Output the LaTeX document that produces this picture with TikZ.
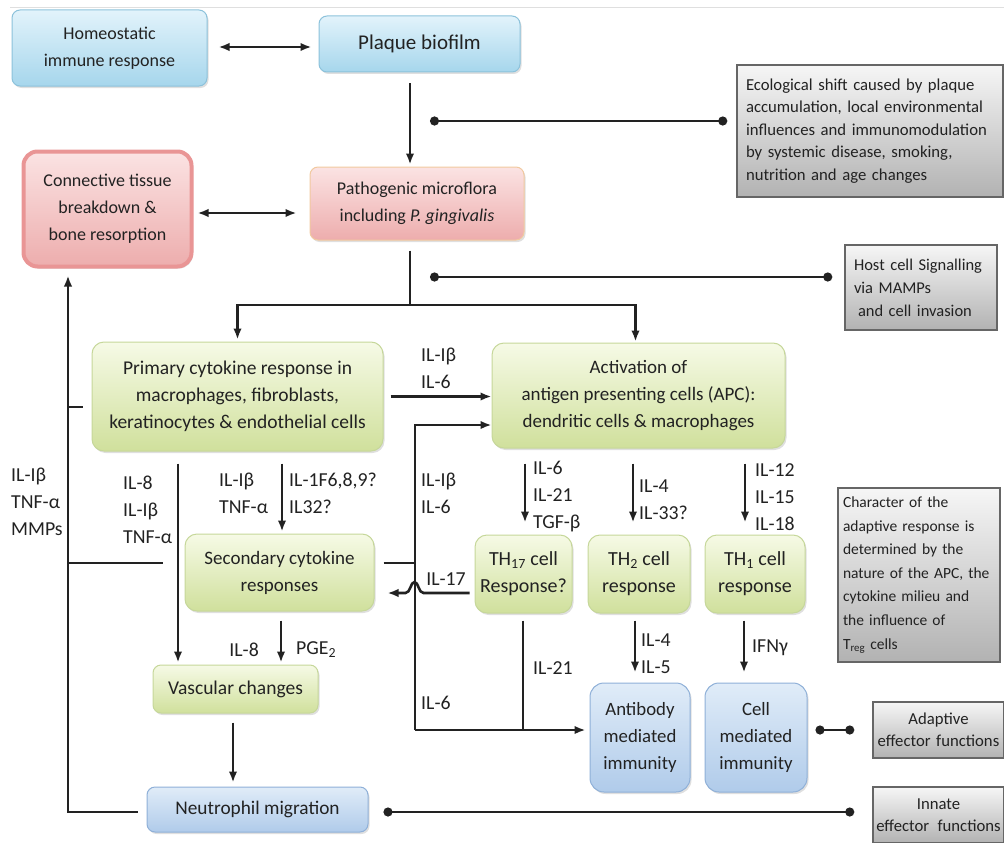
\documentclass[tikz,border=0pt]{standalone}
\usepackage{fontspec}
\setmainfont{Carlito}
\usepackage{xcolor}
\usepackage{tikz}
\usetikzlibrary{arrows.meta,positioning,shadows,calc}
\definecolor{inkgray}{HTML}{222222}
\definecolor{textgray}{HTML}{222222}
\definecolor{skytop}{HTML}{E2F3FB}
\definecolor{skybot}{HTML}{A6D6EC}
\definecolor{skyedge}{HTML}{8CC2DB}
\definecolor{effecttop}{HTML}{E0ECF8}
\definecolor{effectbot}{HTML}{B0CBEA}
\definecolor{effectedge}{HTML}{8FB0D8}
\definecolor{rosetop}{HTML}{FBE3E3}
\definecolor{rosebot}{HTML}{EDADAD}
\definecolor{roseedge}{HTML}{E27272}
\definecolor{peachedge}{HTML}{F1C99F}
\definecolor{limetop}{HTML}{F6FAE6}
\definecolor{limebot}{HTML}{D0E09C}
\definecolor{limeedge}{HTML}{C6D79A}
\definecolor{greytop}{HTML}{F6F6F6}
\definecolor{greybot}{HTML}{B2B2B2}
\definecolor{greyedge}{HTML}{666666}

\tikzset{
  cellbox/.style={align=center, text=textgray, inner sep=4pt,
    font=\fontsize{18}{27}\selectfont,
    drop shadow={opacity=0.25, shadow xshift=1.5pt, shadow yshift=-2pt}},
  skybox/.style={cellbox, rounded corners=8pt, draw=skyedge, line width=1pt,
    top color=skytop, bottom color=skybot},
  effectbox/.style={cellbox, rounded corners=14pt, draw=effectedge, line width=1pt,
    top color=effecttop, bottom color=effectbot, font=\fontsize{18.8}{27}\selectfont},
  rosebox/.style={cellbox, rounded corners=14pt, draw=roseedge!75, line width=4pt,
    top color=rosetop, bottom color=rosebot},
  peachbox/.style={cellbox, rounded corners=8pt, draw=peachedge, line width=1pt,
    top color=rosetop, bottom color=rosebot},
  limebox/.style={cellbox, rounded corners=12pt, draw=limeedge, line width=1pt,
    top color=limetop, bottom color=limebot, font=\fontsize{19.5}{27}\selectfont},
  notebox/.style={draw=greyedge, line width=1.5pt, top color=greytop, bottom color=greybot,
    text=textgray, align=left, inner xsep=9pt, inner ysep=4pt,
    font=\fontsize{16.7}{22.5}\selectfont},
  cytolabel/.style={align=left, text=textgray, inner sep=0pt,
    font=\fontsize{19.8}{27}\selectfont},
  wire/.style={draw=inkgray, line width=2.6pt},
  feed/.style={wire, -{Latex[length=11pt,width=8.5pt]}},
  bothway/.style={wire, {Latex[length=11pt,width=8.5pt]}-{Latex[length=11pt,width=8.5pt]}},
  linkdots/.style={wire, {Circle[length=9pt]}-{Circle[length=9pt]}}
}

\begin{document}
\begin{tikzpicture}[x=1pt, y=-1pt]
    \useasboundingbox (0,0) rectangle (1004,843);
    \draw[gray!25, line width=0.8pt] (10,7) -- (1004,7);

    \node[skybox, minimum width=195pt, minimum height=76pt] (homeostatic) at (109.5,48)
      {Homeostatic\\immune response};
    \node[skybox, minimum width=201pt, minimum height=56pt, font=\fontsize{21}{25}\selectfont]
      (plaque) at (419.5,44) {Plaque biofilm};
    \node[rosebox, minimum width=168pt, minimum height=115pt] (connective) at (107.5,209)
      {Connective tissue\\breakdown \&\\bone resorption};
    \node[peachbox, minimum width=214pt, minimum height=73pt] (pathogenic) at (417,203.5)
      {Pathogenic microflora\\including \textit{P. gingivalis}};
    \node[notebox, text width=248pt, minimum height=132pt] (ecoshift) at (870,131)
      {Ecological shift caused by plaque\\accumulation, local environmental\\influences and immunomodulation\\by systemic disease, smoking,\\nutrition and age changes};
    \node[notebox, text width=134pt, minimum height=85pt, font=\fontsize{16.5}{23}\selectfont]
      (hostsig) at (921,287.5) {Host cell Signalling\\via MAMPs\\\hspace*{4pt}and cell invasion};

    \node[limebox, minimum width=291pt, minimum height=109pt] (primary) at (237.5,396.5)
      {Primary cytokine response in\\macrophages, fibroblasts,\\keratinocytes \& endothelial cells};
    \node[limebox, minimum width=293pt, minimum height=105pt, font=\fontsize{19}{27}\selectfont]
      (apc) at (638.5,395.5) {Activation of\\antigen presenting cells (APC):\\dendritic cells \& macrophages};
    \node[limebox, minimum width=189pt, minimum height=77pt, font=\fontsize{19}{27}\selectfont]
      (secondary) at (279.5,572.5) {Secondary cytokine\\responses};
    \node[limebox, rounded corners=8pt, minimum width=165pt, minimum height=48pt] (vascular) at (235.5,689)
      {Vascular changes};
    \node[effectbox, rounded corners=8pt, minimum width=221pt, minimum height=45pt,
      font=\fontsize{19.3}{27}\selectfont] (neutrophil) at (257.5,809.5) {Neutrophil migration};

    \node[limebox, minimum width=97pt, minimum height=78pt, font=\fontsize{20}{27}\selectfont]
      (th17) at (523.5,574) {TH\textsubscript{17} cell\\Response?};
    \node[limebox, minimum width=102pt, minimum height=78pt, font=\fontsize{20}{27}\selectfont]
      (th2) at (639,574) {TH\textsubscript{2} cell\\response};
    \node[limebox, minimum width=100pt, minimum height=78pt, font=\fontsize{20}{27}\selectfont]
      (th1) at (755,574) {TH\textsubscript{1} cell\\response};
    \node[notebox, inner xsep=5pt, text width=152pt, minimum height=174pt, font=\fontsize{15.5}{23.6}\selectfont]
      (character) at (919,575) {Character of the\\adaptive response is\\determined by the\\nature of the APC, the\\cytokine milieu and\\the influence of\\T\textsubscript{reg} cells};
    \node[effectbox, minimum width=100pt, minimum height=109pt] (antibody) at (640,737.5)
      {Antibody\\mediated\\immunity};
    \node[effectbox, minimum width=102pt, minimum height=109pt] (cellmed) at (756,737.5)
      {Cell\\mediated\\immunity};
    \node[notebox, align=center, inner xsep=2pt, text width=127pt, minimum height=56pt] (adaptive) at (938.5,730)
      {Adaptive\\effector functions};
    \node[notebox, align=center, inner xsep=2pt, text width=127pt, minimum height=56pt] (innate) at (938.5,815)
      {Innate\\effector\hspace{0.5em}functions};

    \coordinate (spine) at (410,0);
    \coordinate (split) at (410,305);
    \coordinate (ecostart) at (430,121);
    \coordinate (hoststart) at (430,277);
    \coordinate (loop) at (68,0);
    \coordinate (bus) at (415,425);
    \coordinate (busend) at (415,730);
    \coordinate (il17) at (415,593);
    \coordinate (sidestub) at (163,563);

    \draw[bothway] ([xshift=11pt,yshift=1pt]homeostatic.east) -- ([xshift=-7pt,yshift=-3pt]plaque.west);
    \draw[feed, shorten >=2pt] ([yshift=-11pt]plaque.south -| spine) -- (pathogenic.north -| spine);
    \draw[linkdots] (ecostart) -- ([xshift=-9pt]ecoshift.west |- ecostart);
    \draw[bothway] ([xshift=4pt,yshift=-4pt]connective.east) -- ([xshift=-13pt,yshift=-9.5pt]pathogenic.west);
    \draw[wire] ([yshift=-10pt]pathogenic.south -| spine) -- (split);
    \draw[linkdots] (hoststart) -- ([xshift=-12pt]hostsig.west |- hoststart);
    \draw[feed, shorten >=2pt] (split) -| (primary.north);
    \draw[feed, shorten >=1pt] (split) -| ([xshift=-3pt]apc.north);

    \draw[feed] ([xshift=7pt]primary.east) -- (apc.west |- primary.east);
    \draw[feed] (busend) |- (apc.west |- bus);
    \draw[feed, shorten >=4pt] (busend) -- (antibody.west |- busend);
    \draw[wire] ([xshift=9pt,yshift=9.5pt]secondary.east) -- (bus |- sidestub);
    \draw[feed] ([xshift=-5pt]th17.west |- il17) -- ++(-46,0)
      .. controls +(-5,0) and +(4,0) .. ++(-9,-11)
      .. controls +(-4,0) and +(5,0) .. ++(-9,11)
      -- ([xshift=13pt]secondary.east |- il17);

    \draw[feed] ([xshift=-9pt,yshift=-2.5pt]neutrophil.west) -| ([yshift=-7pt]loop |- connective.south);
    \draw[wire] (loop |- sidestub) -- (sidestub);
    \draw[wire] ([yshift=-10.5pt]loop |- primary.west) -- ([xshift=-9pt,yshift=-10.5pt]primary.west);

    \draw[feed, shorten >=2pt] ([xshift=-59.5pt,yshift=-12pt]primary.south) -- ([xshift=-57.5pt]vascular.north);
    \draw[feed, shorten >=2pt] ([xshift=44.5pt,yshift=-12pt]primary.south) -- ([xshift=2.5pt]secondary.north);
    \draw[feed, shorten >=2pt] ([xshift=1.5pt,yshift=-9pt]secondary.south) -- ([xshift=45.5pt]vascular.north);
    \draw[feed, shorten >=4pt] ([xshift=-2.5pt,yshift=-9pt]vascular.south) -- ([xshift=-24.5pt]neutrophil.north);

    \draw[feed, shorten >=12pt] ([xshift=-113.5pt,yshift=-15pt]apc.south) -- ([xshift=1.5pt]th17.north);
    \draw[feed, shorten >=12pt] ([xshift=-5.5pt,yshift=-15pt]apc.south) -- ([xshift=-6pt]th2.north);
    \draw[feed, shorten >=12pt] ([xshift=106.5pt,yshift=-15pt]apc.south) -- ([xshift=-10pt]th1.north);
    \draw[wire] ([xshift=-0.5pt,yshift=-7pt]th17.south) -- ([xshift=-0.5pt]th17.south |- busend);
    \draw[feed, shorten >=10pt] ([xshift=-4pt,yshift=-7pt]th2.south) -- ([xshift=-5pt]antibody.north);
    \draw[feed, shorten >=10pt] ([xshift=-11pt,yshift=-7pt]th1.south) -- ([xshift=-12pt]cellmed.north);
    \draw[linkdots] ([xshift=8pt,yshift=7.5pt]cellmed.east) -- ([xshift=-18pt]adaptive.west);
    \draw[linkdots] ([xshift=15pt,yshift=-2.5pt]neutrophil.east) -- ([xshift=-18pt,yshift=3pt]innate.west);

    \node[cytolabel, anchor=west] (lbl-loop) at (11,502) {IL-Iβ\\TNF-α\\MMPs};
    \node[cytolabel, anchor=west] (lbl-vasc) at (123,510) {IL-8\\IL-Iβ\\TNF-α};
    \node[cytolabel, anchor=west] (lbl-sec-a) at (219,493) {IL-Iβ\\TNF-α};
    \node[cytolabel, anchor=west] (lbl-sec-b) at (289,493) {IL-1F6,8,9?\\IL32?};
    \node[cytolabel, anchor=west] (lbl-apc-a) at (421,368) {IL-Iβ\\IL-6};
    \node[cytolabel, anchor=west] (lbl-apc-b) at (421,493) {IL-Iβ\\IL-6};
    \node[cytolabel] (lbl-il17) at (446,579) {IL-17};
    \node[cytolabel, anchor=west] (lbl-th17) at (533,497) {IL-6\\IL-21\\TGF-β};
    \node[cytolabel, anchor=west] (lbl-th2) at (639,500) {IL-4\\IL-33?};
    \node[cytolabel, anchor=west] (lbl-th1) at (755,497) {IL-12\\IL-15\\IL-18};
    \node[cytolabel, anchor=west] (lbl-il21) at (533,668) {IL-21};
    \node[cytolabel, anchor=west] (lbl-il6) at (421,703) {IL-6};
    \node[cytolabel, anchor=west] (lbl-ab) at (641,654) {IL-4\\IL-5};
    \node[cytolabel, anchor=west] (lbl-ifn) at (752,648) {IFNγ};
    \node[cytolabel, anchor=east] (lbl-il8) at (259,650) {IL-8};
    \node[cytolabel, anchor=west] (lbl-pge) at (296,650) {PGE\textsubscript{2}};
\end{tikzpicture}
\end{document}
